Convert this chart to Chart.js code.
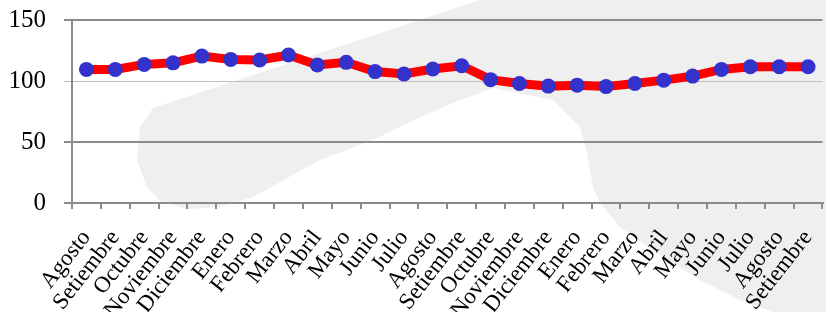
<!DOCTYPE html>
<html>
<head>
<meta charset="utf-8">
<script src="https://cdn.jsdelivr.net/npm/chart.js@4/dist/chart.umd.min.js"></script>
<style>
    html, body { margin: 0; padding: 0; background: #fff; overflow: hidden; }
    #wrap { width: 830px; height: 312px; }
</style>
</head>
<body>
<div id="wrap"><canvas id="chart1"></canvas></div>
<script>
// DATA
const months = ["Agosto", "Setiembre", "Octubre", "Noviembre", "Diciembre", "Enero", "Febrero", "Marzo",
    "Abril", "Mayo", "Junio", "Julio", "Agosto", "Setiembre", "Octubre", "Noviembre", "Diciembre",
    "Enero", "Febrero", "Marzo", "Abril", "Mayo", "Junio", "Julio", "Agosto", "Setiembre"];
const values = [109.5, 109.5, 113.6, 114.9, 120.4, 117.7, 117.2, 121.3, 113.1, 115.3, 107.7, 105.7, 109.8,
    112.5, 101.1, 97.9, 95.8, 96.6, 95.4, 97.9, 100.7, 104.0, 109.5, 111.7, 111.7, 111.7];
const yTicks = [0, 50, 100, 150];

// light gray watermark behind the plot
const shape = [[480, 0], [840, 0], [840, 312], [773, 312], [740, 300], [700, 280], [657, 253], [620, 227],
    [600, 203], [593, 187], [587, 153], [580, 127], [553, 100], [493, 88], [453, 103], [420, 117],
    [373, 140], [320, 160], [253, 197], [220, 207], [187, 209], [160, 201], [147, 187], [137, 160],
    [140, 127], [153, 108]];

const backdrop = {
    id: 'backdrop',
    beforeDraw: function (chart) {
        const ctx = chart.ctx;
        ctx.save();
        ctx.fillStyle = '#ffffff';
        ctx.fillRect(0, 0, chart.width, chart.height);
        ctx.fillStyle = '#efefef';
        ctx.beginPath();
        shape.forEach(function (p, i) {
            if (i === 0) ctx.moveTo(p[0], p[1]); else ctx.lineTo(p[0], p[1]);
        });
        ctx.closePath();
        ctx.fill();
        ctx.restore();
    }
};

const serif = "'Liberation Serif', 'Times New Roman', serif";

new Chart(document.getElementById("chart1"), {
    type: 'line',
    data: {
        labels: months,
        datasets: [{
            data: values,
            borderColor: '#ff0000',
            borderWidth: 9,
            tension: 0,
            pointRadius: 7.5,
            pointBackgroundColor: '#3333cc',
            pointBorderWidth: 0
        }]
    },
    options: {
        responsive: true,
        maintainAspectRatio: false,
        animation: false,
        layout: { padding: { top: 20, left: 0, right: 0, bottom: 0 } },
        plugins: { legend: { display: false }, tooltip: { enabled: false } },
        scales: {
            x: {
                offset: true,
                grid: {
                    offset: true,
                    drawOnChartArea: false,
                    drawTicks: true,
                    tickLength: 6,
                    color: '#8c8c8c',
                    lineWidth: 2
                },
                border: { color: '#8c8c8c', width: 2 },
                ticks: {
                    autoSkip: false,
                    minRotation: 52,
                    maxRotation: 52,
                    padding: 16,
                    color: '#000',
                    font: { family: serif, size: 23 }
                },
                afterFit: function (s) {
                    s.height = 109;
                    s.paddingLeft = 0;
                    s.paddingRight = 0;
                }
            },
            y: {
                min: 0,
                max: 150,
                afterBuildTicks: function (s) {
                    s.ticks = yTicks.map(function (v) { return { value: v }; });
                },
                grid: {
                    color: function (c) { return c.tick && c.tick.value === 100 ? '#bdbdbd' : '#8c8c8c'; },
                    lineWidth: function (c) { return c.tick && c.tick.value === 100 ? 1 : 2; },
                    tickLength: 8
                },
                border: { color: '#8c8c8c', width: 2 },
                ticks: {
                    padding: 18,
                    color: '#000',
                    font: { family: serif, size: 25 }
                },
                afterFit: function (s) {
                    s.width = 72;
                    s.paddingTop = 0;
                    s.paddingBottom = 0;
                }
            }
        }
    },
    plugins: [backdrop]
});
</script>
</body>
</html>
